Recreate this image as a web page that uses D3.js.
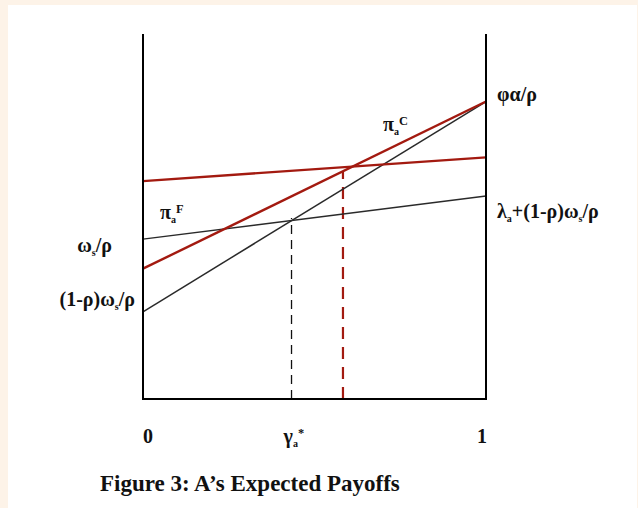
<!DOCTYPE html>
<html>
<head>
  <script src="https://d3js.org/d3.v7.min.js"></script>
  <style>
    body { margin: 0; background: #fdf3e8; }
    svg { display: block; }
    .lbl { font-family: "Liberation Serif", "Times New Roman", serif; font-weight: bold; fill: #111; }
  </style>
</head>
<body>
  <svg id="chart"></svg>
  <script>
    // payoff lines: value at gamma = 0 and gamma = 1 (y in 0..1 of the plot height)
    var gammaEnds = [0, 1];
    var blackSteep = [0.239, 0.815];   // (1-rho)w/rho -> phi a/rho
    var blackFlat  = [0.438, 0.556];   // w/rho -> lambda + (1-rho)w/rho
    var redSteep   = [0.357, 0.815];   // pi_a^C
    var redFlat    = [0.597, 0.662];   // pi_a^F
    // dashed drop lines: [gamma, top value]
    var gammaStar  = [0.433, 0.496];
    var gammaRed   = [0.583, 0.622];

    var W = 638, H = 508;
    var margin = { top: 34, right: 152, bottom: 109, left: 143 };
    var width = W - margin.left - margin.right;
    var height = H - margin.top - margin.bottom;

    var root = d3.select("#chart").attr("width", W).attr("height", H);
    root.append("rect").attr("x", 8).attr("y", 5).attr("width", W - 9).attr("height", H - 5).attr("fill", "#fff");

    var svg = root.append("g").attr("transform", "translate(" + margin.left + "," + margin.top + ")");

    var x = d3.scaleLinear().domain([0, 1]).range([0, width]);
    var y = d3.scaleLinear().domain([0, 1]).range([height, 0]);

    var line = d3.line()
      .x(function(d) { return x(d[0]); })
      .y(function(d) { return y(d[1]); });

    function pts(v) { return gammaEnds.map(function(g, i) { return [g, v[i]]; }); }

    // dashed drops
    svg.append("path")
      .attr("d", line([[gammaStar[0], 0], gammaStar]))
      .attr("stroke", "#111").attr("stroke-width", 1.3).attr("stroke-dasharray", "9,6").attr("fill", "none");
    svg.append("path")
      .attr("d", line([[gammaRed[0], 0], gammaRed]))
      .attr("stroke", "#a31a10").attr("stroke-width", 2.2).attr("stroke-dasharray", "12,8").attr("fill", "none");

    // black lines
    [blackSteep, blackFlat].forEach(function(v) {
      svg.append("path").attr("d", line(pts(v)))
        .attr("stroke", "#2a2a2a").attr("stroke-width", 1.5).attr("fill", "none");
    });
    // red lines
    [redSteep, redFlat].forEach(function(v) {
      svg.append("path").attr("d", line(pts(v)))
        .attr("stroke", "#a31a10").attr("stroke-width", 2.4).attr("fill", "none");
    });

    // axes: left, right, bottom
    var axisPath = [[0, 1], [0, 0], [1, 0], [1, 1]];
    svg.append("path").attr("d", line(axisPath))
      .attr("stroke", "#000").attr("stroke-width", 2).attr("fill", "none");

    function label(px, py, parts, size, anchor) {
      var t = root.append("text").attr("class", "lbl")
        .attr("x", px).attr("y", py)
        .attr("font-size", size)
        .attr("text-anchor", anchor || "start");
      parts.forEach(function(p) {
        var s = t.append("tspan").text(p.t);
        if (p.sub) s.attr("font-size", size * 0.5).attr("dy", 4);
        if (p.sup) s.attr("font-size", size * 0.62).attr("dy", -10);
        if (p.back) s.attr("dy", p.back);
      });
      return t;
    }

    var L = margin.left, T = margin.top;
    var fs = 20;

    label(L + x(1) + 11, T + y(redSteep[1]) - 1, [{ t: "φα/ρ" }], fs);
    label(L + x(1) + 11, T + y(blackFlat[1]) + 22,
      [{ t: "λ" }, { t: "a", sub: true }, { t: "+(1-ρ)ω", back: -4 }, { t: "s", sub: true }, { t: "/ρ", back: -4 }], fs);
    label(L - 31, T + y(blackFlat[0]) + 13,
      [{ t: "ω" }, { t: "s", sub: true }, { t: "/ρ", back: -4 }], fs, "end");
    label(L - 8, T + y(blackSteep[0]) - 6,
      [{ t: "(1-ρ)ω" }, { t: "s", sub: true }, { t: "/ρ", back: -4 }], fs, "end");

    label(383, 131, [{ t: "π" }, { t: "a", sub: true }, { t: "C", sup: true }], fs);
    label(160, 219, [{ t: "π" }, { t: "a", sub: true }, { t: "F", sup: true }], fs);

    var ty = T + height + 44;
    label(L + x(0) + 5, ty, [{ t: "0" }], fs, "middle");
    label(L + x(gammaStar[0]) - 8, ty, [{ t: "γ" }, { t: "a", sub: true }, { t: "*", sup: true }], fs);
    label(L + x(1) - 4, ty, [{ t: "1" }], fs, "middle");

    label(100, 491, [{ t: "Figure 3: A’s Expected Payoffs" }], 23);
  </script>
</body>
</html>
